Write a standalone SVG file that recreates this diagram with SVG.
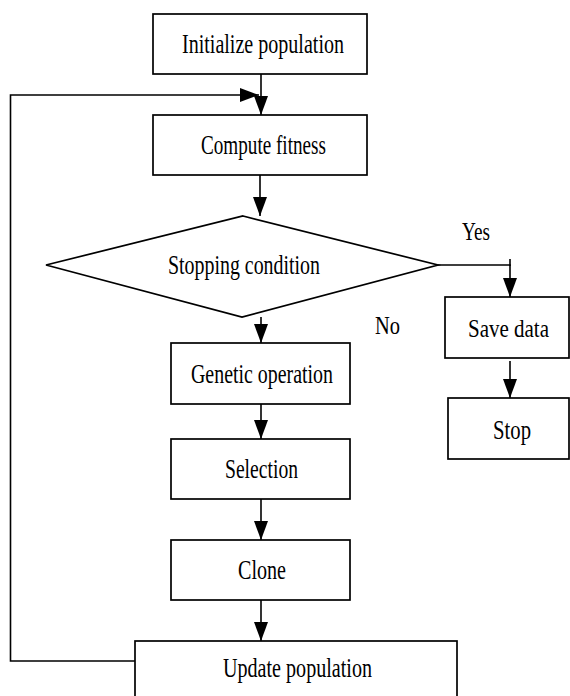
<svg xmlns="http://www.w3.org/2000/svg" width="570" height="696" viewBox="0 0 570 696">
<style>
.box{fill:#fff;stroke:#000;stroke-width:1.7}
text{font-family:'Liberation Serif','DejaVu Serif',serif;font-size:27.5px;fill:#000}
text.sm{font-size:25px}
text.r{font-size:25px}
.con{fill:none;stroke:#000;stroke-width:1.6}
</style>
<defs>
<marker id="ah" markerUnits="userSpaceOnUse" markerWidth="20" markerHeight="14" refX="19" refY="7" orient="auto" overflow="visible">
<path d="M0,0 L19,7 L0,14 z" fill="#000"/>
</marker>
</defs>
<rect width="570" height="696" fill="#fff"/>
<g id="connectors">
<line class="con" x1="261" y1="74" x2="261" y2="115" marker-end="url(#ah)"/>
<polyline class="con" points="135,661 10.5,661 10.5,95 259,95" marker-end="url(#ah)"/>
<line class="con" x1="260" y1="175" x2="260" y2="216" marker-end="url(#ah)"/>
<polyline class="con" points="438,265 510,265 510,297" marker-end="url(#ah)"/>
<line class="con" x1="510" y1="259" x2="510" y2="266"/>
<line class="con" x1="261" y1="317" x2="261" y2="343" marker-end="url(#ah)"/>
<line class="con" x1="510" y1="361" x2="510" y2="398" marker-end="url(#ah)"/>
<line class="con" x1="261" y1="397" x2="261" y2="439" marker-end="url(#ah)"/>
<line class="con" x1="261" y1="499" x2="261" y2="540" marker-end="url(#ah)"/>
<line class="con" x1="261" y1="600" x2="261" y2="641" marker-end="url(#ah)"/>
</g>
<g id="init">
<rect class="box" x="153" y="14" width="214" height="60"/>
<text x="182" y="53" textLength="162" lengthAdjust="spacingAndGlyphs">Initialize population</text>
</g>
<g id="fitness">
<rect class="box" x="153" y="115" width="214" height="60"/>
<text x="201" y="154" textLength="125" lengthAdjust="spacingAndGlyphs">Compute fitness</text>
</g>
<g id="decision">
<polygon class="box" points="243,216 438,265 242,317 46,265"/>
<text x="168" y="274" textLength="152" lengthAdjust="spacingAndGlyphs">Stopping condition</text>
</g>
<g id="yes-label">
<text class="sm" x="462" y="240" textLength="28" lengthAdjust="spacingAndGlyphs">Yes</text>
</g>
<g id="no-label">
<text class="sm" x="375" y="334" textLength="25" lengthAdjust="spacingAndGlyphs">No</text>
</g>
<g id="save">
<rect class="box" x="445" y="297" width="124" height="61"/>
<text class="r" x="508.5" y="337" text-anchor="middle" textLength="81" lengthAdjust="spacingAndGlyphs">Save data</text>
</g>
<g id="stop">
<rect class="box" x="448" y="398" width="121" height="61"/>
<text x="493" y="439" textLength="38" lengthAdjust="spacingAndGlyphs">Stop</text>
</g>
<g id="genetic">
<rect class="box" x="171" y="343" width="179" height="61"/>
<text x="191" y="383" textLength="142" lengthAdjust="spacingAndGlyphs">Genetic operation</text>
</g>
<g id="selection">
<rect class="box" x="171" y="439" width="179" height="60"/>
<text x="225" y="478" textLength="73" lengthAdjust="spacingAndGlyphs">Selection</text>
</g>
<g id="clone">
<rect class="box" x="171" y="540" width="179" height="60"/>
<text x="238" y="579" textLength="48" lengthAdjust="spacingAndGlyphs">Clone</text>
</g>
<g id="update">
<rect class="box" x="135" y="641" width="322" height="58"/>
<text x="223" y="677" textLength="149" lengthAdjust="spacingAndGlyphs">Update population</text>
</g>
</svg>
